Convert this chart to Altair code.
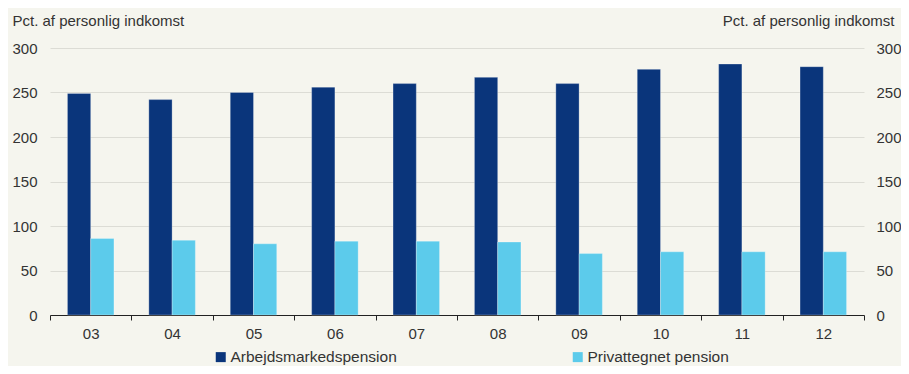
import altair as alt
import pandas as pd

years = ["03", "04", "05", "06", "07", "08", "09", "10", "11", "12"]
series = ["Arbejdsmarkedspension", "Privattegnet pension"]
arbejd = [249, 242, 250, 256, 260, 267, 260, 276, 282, 279]
privat = [86, 84, 80, 83, 83, 82, 69, 71, 71, 71]
colors = ["#0a357b", "#5ccbeb"]
y_ticks = [0, 50, 100, 150, 200, 250, 300]

rows = []
for i, yr in enumerate(years):
    rows.append({"year": yr, "series": series[0], "value": arbejd[i]})
    rows.append({"year": yr, "series": series[1], "value": privat[i]})
df = pd.DataFrame(rows)

FONT = "Liberation Sans"
TXT = "#333333"

x_enc = alt.X("year:N", sort=years,
              scale=alt.Scale(paddingInner=0, paddingOuter=0),
              axis=alt.Axis(title=None, labelAngle=0, tickBand="extent",
                            domainColor="#222222", tickColor="#222222",
                            tickSize=5, labelPadding=6, labelFontSize=15,
                            labelColor=TXT, labelFont=FONT, grid=False))
xoff = alt.XOffset("series:N", sort=series,
                   scale=alt.Scale(paddingOuter=0.75, paddingInner=0))

bars = alt.Chart(df).mark_bar(stroke="#ffffff", strokeOpacity=0.35, strokeWidth=0.8).encode(
    x=x_enc,
    xOffset=xoff,
    y=alt.Y("value:Q", scale=alt.Scale(domain=[0, 300], nice=False),
            axis=alt.Axis(values=y_ticks, title="Pct. af personlig indkomst",
                          titleAngle=0, titleX=-38, titleY=-23,
                          titleAlign="left", titleBaseline="alphabetic",
                          titleFontSize=15, titleFont=FONT, titleColor=TXT,
                          titleFontWeight="normal",
                          labelFontSize=15, labelFont=FONT, labelColor=TXT,
                          labelPadding=13, ticks=False, domain=False,
                          grid=True, gridColor="#dcdcd5", gridWidth=1)),
    color=alt.Color("series:N", sort=series,
                    scale=alt.Scale(domain=series, range=colors),
                    legend=alt.Legend(title=None, orient="none", legendX=163, legendY=301,
                                      direction="horizontal", columns=2,
                                      columnPadding=173, symbolType="square",
                                      symbolSize=100, symbolStrokeWidth=0,
                                      labelFontSize=15.5, labelFont=FONT,
                                      labelColor=TXT, labelOffset=2,
                                      labelLimit=300)),
)

right = alt.Chart(df).mark_bar(opacity=0).encode(
    x=alt.X("year:N", sort=years),
    xOffset=alt.XOffset("series:N", sort=series),
    y=alt.Y("value:Q", scale=alt.Scale(domain=[0, 300], nice=False),
            axis=alt.Axis(orient="right", values=y_ticks,
                          title="Pct. af personlig indkomst",
                          titleAngle=0, titleX=30, titleY=-23,
                          titleAlign="right", titleBaseline="alphabetic",
                          titleFontSize=15, titleFont=FONT, titleColor=TXT,
                          titleFontWeight="normal",
                          labelFontSize=15, labelFont=FONT, labelColor=TXT,
                          labelPadding=12, ticks=False, domain=False,
                          grid=False)),
)

chart = alt.layer(bars, right).resolve_scale(y="independent").properties(
    width=814, height=267,
    autosize=alt.AutoSizeParams(type="none"),
    padding={"left": 42, "top": 40, "right": 37, "bottom": 51},
    background="#f5f5ee",
).configure_view(stroke=None)

chart.save("out.html", embed_options={"renderer": "svg", "actions": False})
